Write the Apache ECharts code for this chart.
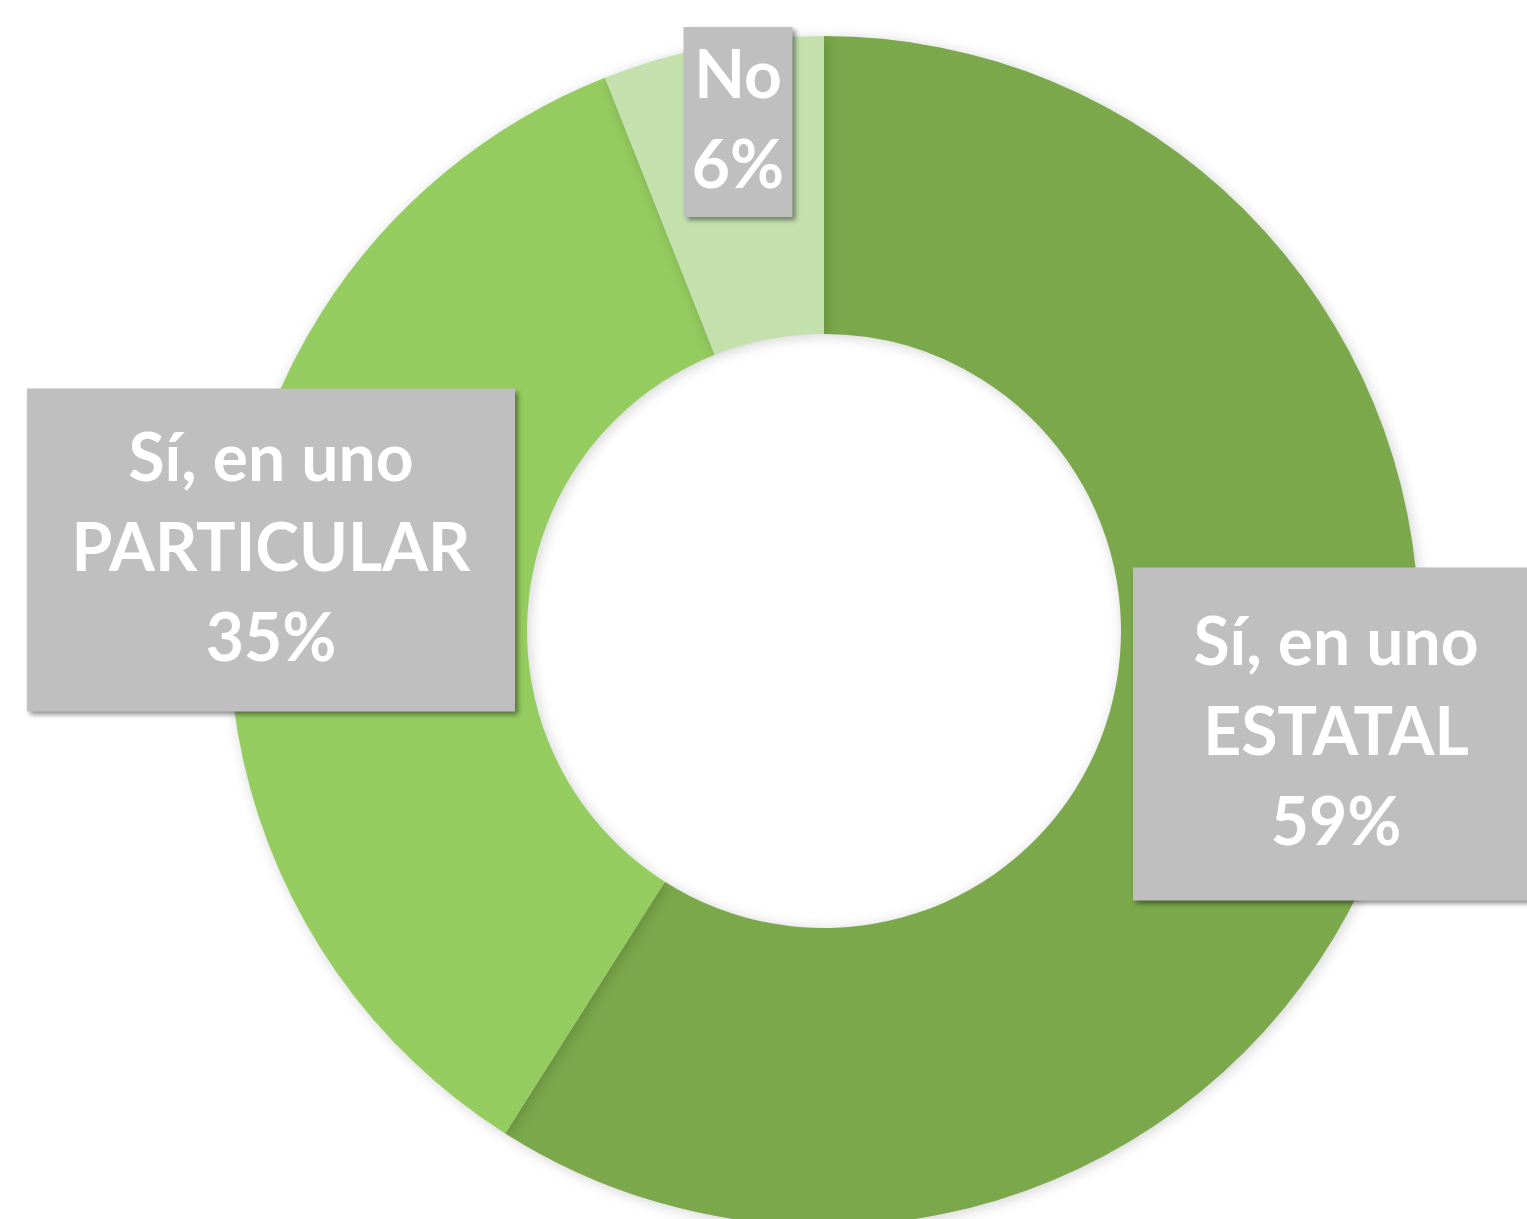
<!DOCTYPE html>
<html>
<head>
<meta charset="utf-8">
<script src="https://cdn.jsdelivr.net/npm/echarts@6/dist/echarts.min.js"></script>
<style>
  html, body { margin: 0; padding: 0; background: #fff; }
  #main { width: 1527px; height: 1219px; }
</style>
</head>
<body>
<div id="main"></div>
<script>
// datos del gráfico
var categories = ['Sí, en uno\nESTATAL', 'Sí, en uno\nPARTICULAR', 'No'];
var values = [59, 35, 6];
var colors = ['#7aa84a', '#95cc5f', '#c3e0ad'];

// posición de cada etiqueta (centro de la caja) y tamaño
var labelBoxes = [
  { cx: 1336, cy: 734, w: 406, pad: [32, 0, 31, 0] },
  { cx: 271, cy: 550, w: 488, pad: [27, 0, 26, 0] },
  { cx: 738, cy: 122, w: 109, pad: [5, 0, 5, 0] }
];

var myChart = echarts.init(document.getElementById('main'));

var seriesData = categories.map(function (name, i) {
  return {
    name: name,
    value: values[i],
    itemStyle: { color: colors[i] },
    label: {
      width: labelBoxes[i].w,
      padding: labelBoxes[i].pad
    }
  };
});

var option = {
  animation: false,
  series: [
    {
      type: 'pie',
      center: [824, 631],
      radius: [297, 595],
      startAngle: 90,
      clockwise: true,
      data: seriesData,
      itemStyle: {
        shadowColor: 'rgba(0,0,0,0.18)',
        shadowBlur: 14,
        shadowOffsetX: 2,
        shadowOffsetY: 2
      },
      label: {
        show: true,
        position: 'outside',
        formatter: function (p) {
          return p.name + '\n' + p.value + '%';
        },
        color: '#ffffff',
        fontFamily: 'Lato',
        fontWeight: 'bold',
        fontSize: 66,
        lineHeight: 90,
        align: 'center',
        backgroundColor: '#bfbfbf',
        shadowColor: 'rgba(0,0,0,0.45)',
        shadowBlur: 5,
        shadowOffsetX: 3,
        shadowOffsetY: 3
      },
      labelLine: { show: false },
      labelLayout: function (params) {
        var b = labelBoxes[params.dataIndex];
        return {
          x: b.cx,
          y: b.cy,
          align: 'center',
          verticalAlign: 'middle'
        };
      },
      emphasis: { disabled: true }
    }
  ]
};

myChart.setOption(option);
</script>
</body>
</html>
